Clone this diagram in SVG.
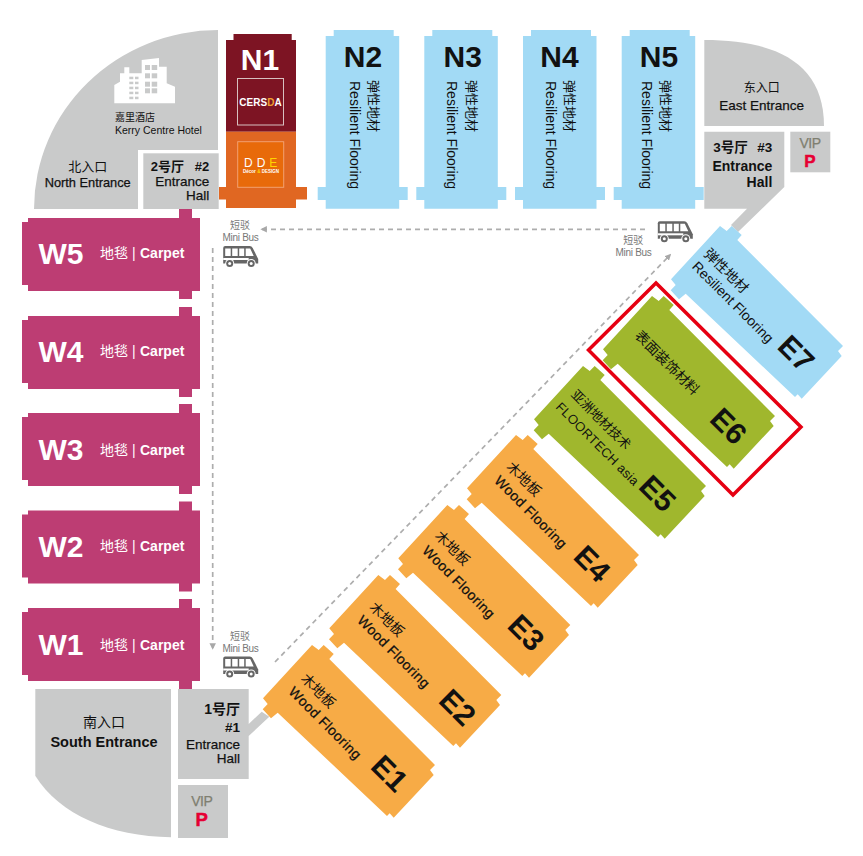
<svg xmlns="http://www.w3.org/2000/svg" width="863" height="856" viewBox="0 0 863 856">
<style>
text{font-family:"Liberation Sans","Noto Sans CJK SC",sans-serif;fill:#111}
.g{fill:#c9caca}
.blue{fill:#a2daf5}.or{fill:#f7ab46}.gr{fill:#a0b72d}.w{fill:#bd3d73}
.nl{font-size:30px;font-weight:700;text-anchor:middle}
.wl{font-size:30px;font-weight:700;fill:#fff}
.wc{font-size:14px;fill:#fff}
.wt{font-size:14px;font-weight:700;fill:#fff}
.v{font-size:14px}.c13{font-size:13px}
.el{font-size:30px;font-weight:700;text-anchor:middle}
.m{text-anchor:middle}
.r{text-anchor:end}
.med{stroke:#111;stroke-width:.25px}
.bus{font-size:10px;fill:#777;text-anchor:middle}
.bus2{font-size:10px;fill:#777;text-anchor:middle;letter-spacing:-.3px}
.vip{font-size:14px;fill:#7f7f70;stroke:#7f7f70;stroke-width:.25px;text-anchor:middle;letter-spacing:-.5px}
.p{font-weight:700;fill:#e60033;stroke:#e60033;stroke-width:.5px;text-anchor:middle}
.dash{fill:none;stroke:#adadad;stroke-width:1.7;stroke-dasharray:5 4}
</style>
<defs>
<polygon id="eshape" points="0,0 6.7,5 11.7,0 21.7,9 17.3,14 123,120 118,125 121.7,130 81.7,172.7 77.7,168.3 75,171 -34.3,67.7 -41,73.3 -49.3,64.3 -44.3,59 -49,53.3"/>
<polygon id="wshape" points="157,-9 170,-9 170,0 178,0 178,73 170,73 170,81 157,81 157,73 6,73 6,67 0,67 0,4 6,4 6,0 157,0"/>
<path id="nshape" d="M8 -6H68V0H73.5V151H82V164H73.5V172.700H0V164H-8V151H0V0H8Z"/>
<marker id="ah" viewBox="0 0 8 8" refX="6" refY="4" markerWidth="6.500" markerHeight="6.500" markerUnits="userSpaceOnUse" orient="auto"><path d="M0 0L8 4L0 8Z" fill="#a8a8a8"/></marker>
<g id="busicon">
<path d="M.5 2Q.5 0 2.500 0H27Q29 0 30 2L35.500 13V17.500H.5Z" fill="#666"/>
<path d="M2.500 2.500H8V10H2.500ZM9.500 2.500H15V10H9.500ZM16.500 2.500H21.500V10H16.500ZM23 2.500H27.500L31 10H23Z" fill="#fff"/>
<path d="M.5 12H26V14H.5Z" fill="#fff"/>
<circle cx="7" cy="17.500" r="4.500" fill="#fff"/><circle cx="28.500" cy="17.500" r="4.500" fill="#fff"/>
<circle cx="7" cy="17.500" r="3.500" fill="#666"/><circle cx="28.500" cy="17.500" r="3.500" fill="#666"/>
<circle cx="7" cy="17.500" r="1.500" fill="#fff"/><circle cx="28.500" cy="17.500" r="1.500" fill="#fff"/>
</g>
</defs>
<rect width="863" height="856" fill="#fff"/>

<g id="connectors">
<path class="dash" d="M645 229.300H262" marker-end="url(#ah)"/>
<path class="dash" d="M212.700 248V648" marker-end="url(#ah)"/>
<path class="dash" d="M275 662L670 255" marker-end="url(#ah)"/>
</g>

<g id="hotel">
<path class="g" d="M218 30V150H138V209H34A184 179 0 0 1 218 30Z"/>
<path fill="#fff" d="M114.300 85L120 81.700V73.300H124.300V67.300H129.300V73.300H141.700V60L159 58V66.700H166.700V83.300L175 86.700V103.300H114.300Z"/>
<g class="g">
<rect x="145" y="65" width="5" height="5"/><rect x="151.700" y="65" width="5.500" height="5"/>
<rect x="145" y="73.300" width="5" height="5"/><rect x="151.700" y="73.300" width="5.500" height="5"/>
<rect x="145" y="81.700" width="5" height="5"/><rect x="151.700" y="81.700" width="5.500" height="5"/>
<rect x="145" y="88.300" width="5" height="5"/><rect x="151.700" y="88.300" width="5.500" height="5"/>
<rect x="129.300" y="76.700" width="4" height="2.500"/><rect x="135" y="76.700" width="3.500" height="2.500"/>
<rect x="129.300" y="81.700" width="4" height="2.500"/><rect x="135" y="81.700" width="3.500" height="2.500"/>
<rect x="129.300" y="86.700" width="4" height="2.500"/><rect x="135" y="86.700" width="3.500" height="2.500"/>
<rect x="129.300" y="91.700" width="4" height="2.500"/><rect x="135" y="91.700" width="3.500" height="2.500"/>
<rect x="129.300" y="96.700" width="4" height="2.500"/><rect x="135" y="96.700" width="3.500" height="2.500"/>
</g>
<text x="115" y="121" font-size="10">嘉里酒店</text>
<text x="115" y="134" font-size="10.500">Kerry Centre Hotel</text>
<text class="m" x="87.700" y="171" font-size="13">北入口</text>
<text class="m med" x="87.700" y="186.700" font-size="12.800">North Entrance</text>
</g>

<g id="hall2">
<rect class="g" x="143.300" y="153.300" width="75.400" height="55.700"/>
<text x="150.700" y="170.700" font-size="13" font-weight="700">2号厅</text>
<text class="r" x="209.300" y="170.700" font-size="13" font-weight="700">#2</text>
<text class="r med" x="209.300" y="185.700" font-size="13.500">Entrance</text>
<text class="r med" x="209.300" y="200" font-size="13.500">Hall</text>
</g>

<g id="east">
<path class="g" d="M704.300 40C775 40 824 62 824 126H704.300Z"/>
<text class="m" x="761.700" y="91.700" font-size="12">东入口</text>
<text class="m med" x="761.700" y="110" font-size="13.500">East Entrance</text>
</g>

<g id="hall3">
<polygon class="g" points="704.300,131.700 784.300,131.700 784.300,187 738,232 731,225 747,208.700 704.300,208.700"/>
<text x="713.300" y="151.700" font-size="13.500" font-weight="700">3号厅</text>
<text class="r" x="772.300" y="151.700" font-size="13.500" font-weight="700">#3</text>
<text class="r" x="772.300" y="171" font-size="14" font-weight="700">Entrance</text>
<text class="r" x="772.300" y="186.700" font-size="14" font-weight="700">Hall</text>
</g>

<g id="vip-east">
<rect class="g" x="790.300" y="131.700" width="40" height="40.600"/>
<text class="vip" x="810" y="148.300">VIP</text>
<text class="p" x="810" y="166.700" font-size="17">P</text>
</g>

<g id="south">
<path class="g" d="M35.300 689H171V837.300C110 836 60 815 35.300 775.700Z"/>
<text class="m" x="104" y="727" font-size="14">南入口</text>
<text class="m" x="104" y="746.700" font-size="14.500" font-weight="700">South Entrance</text>
</g>

<g id="hall1">
<polygon class="g" points="178,689 248.700,689 248.700,724 261.700,711.700 269.300,716.700 248.700,736 248.700,779 178,779"/>
<text class="r" x="240" y="714" font-size="14" font-weight="700">1号厅</text>
<text class="r" x="240" y="731.700" font-size="13.500" font-weight="700">#1</text>
<text class="r med" x="240" y="749" font-size="13.500">Entrance</text>
<text class="r med" x="240" y="762.700" font-size="13.500">Hall</text>
</g>

<g id="vip-south">
<rect class="g" x="178" y="785" width="50" height="53"/>
<text class="vip" x="201.700" y="806">VIP</text>
<text class="p" x="201.700" y="826" font-size="18.500">P</text>
</g>

<g id="N1">
<path fill="#7d1423" d="M233.500 34H291.700V40H296V131.700H226V40H233.500Z"/>
<path fill="#e06722" d="M226 131.700H296V187H307V199.500H296V208H226V199.500H219V187H226Z"/>
<text class="nl" x="260" y="70" style="fill:#fff">N1</text>
<rect x="237.500" y="78.500" width="46" height="46.500" fill="none" stroke="#d8c0c0"/>
<text x="260.500" y="106" font-size="10" font-weight="700" text-anchor="middle" style="fill:#fff">CERS<tspan style="fill:#f0a030">D</tspan>A</text>
<rect x="237.700" y="141.700" width="46" height="45.600" fill="#e86a0a" stroke="#f2a070"/>
<text x="244" y="167" font-size="12" letter-spacing="4" style="fill:#fff">DD<tspan style="fill:#ffd400">E</tspan></text>
<text x="261" y="173" font-size="4.500" font-weight="700" text-anchor="middle" style="fill:#fff">Décor <tspan style="fill:#ffd400">&amp;</tspan> DESIGN</text>
</g>

<g id="N2">
<use href="#nshape" class="blue" x="325.700" y="36"/>
<text class="nl" x="363" y="66.700">N2</text>
<text class="v" transform="translate(349.500 81) rotate(90)">Resilient Flooring</text>
<text class="c13" transform="translate(369 80) rotate(90)">弹性地材</text>
</g>
<g id="N3">
<use href="#nshape" class="blue" x="424.300" y="36"/>
<text class="nl" x="462.700" y="66.700">N3</text>
<text class="v" transform="translate(447 81) rotate(90)">Resilient Flooring</text>
<text class="c13" transform="translate(466.500 80) rotate(90)">弹性地材</text>
</g>
<g id="N4">
<use href="#nshape" class="blue" x="523" y="36"/>
<text class="nl" x="559.500" y="66.700">N4</text>
<text class="v" transform="translate(545.500 81) rotate(90)">Resilient Flooring</text>
<text class="c13" transform="translate(564.500 80) rotate(90)">弹性地材</text>
</g>
<g id="N5">
<use href="#nshape" class="blue" x="621.700" y="36"/>
<text class="nl" x="659" y="66.700">N5</text>
<text class="v" transform="translate(642 81) rotate(90)">Resilient Flooring</text>
<text class="c13" transform="translate(661 80) rotate(90)">弹性地材</text>
</g>

<g id="W5"><use href="#wshape" class="w" x="22" y="218"/><text class="wl" x="38.500" y="264">W5</text><text class="wc" x="100" y="258">地毯</text><text class="wc" x="132" y="258">|</text><text class="wt" x="140" y="258">Carpet</text></g>
<g id="W4"><use href="#wshape" class="w" x="22" y="316"/><text class="wl" x="38.500" y="362">W4</text><text class="wc" x="100" y="356">地毯</text><text class="wc" x="132" y="356">|</text><text class="wt" x="140" y="356">Carpet</text></g>
<g id="W3"><use href="#wshape" class="w" x="22" y="413"/><text class="wl" x="38.500" y="460">W3</text><text class="wc" x="100" y="455">地毯</text><text class="wc" x="132" y="455">|</text><text class="wt" x="140" y="455">Carpet</text></g>
<g id="W2"><use href="#wshape" class="w" x="22" y="510.500"/><text class="wl" x="38.500" y="557">W2</text><text class="wc" x="100" y="551">地毯</text><text class="wc" x="132" y="551">|</text><text class="wt" x="140" y="551">Carpet</text></g>
<g id="W1"><use href="#wshape" class="w" x="22" y="608"/><text class="wl" x="38.500" y="655">W1</text><text class="wc" x="100" y="650">地毯</text><text class="wc" x="132" y="650">|</text><text class="wt" x="140" y="650">Carpet</text></g>

<g id="E1">
<use href="#eshape" class="or" x="312" y="645"/>
<text class="m" font-size="14" transform="translate(318.300 690.700) rotate(45) translate(0 5)">木地板</text>
<text class="m med" font-size="14" letter-spacing=".4" transform="translate(325.300 723) rotate(45) translate(0 5)">Wood Flooring</text>
<text class="el" transform="translate(390 773) rotate(45) translate(0 11)">E1</text>
</g>
<g id="E2">
<use href="#eshape" class="or" x="378.300" y="575"/>
<text class="m" font-size="14" transform="translate(387 619.300) rotate(45) translate(0 5)">木地板</text>
<text class="m med" font-size="14" letter-spacing=".4" transform="translate(394 651.700) rotate(45) translate(0 5)">Wood Flooring</text>
<text class="el" transform="translate(458 707) rotate(45) translate(0 11)">E2</text>
</g>
<g id="E3">
<use href="#eshape" class="or" x="447.300" y="505"/>
<text class="m" font-size="14" transform="translate(452.500 548) rotate(45) translate(0 5)">木地板</text>
<text class="m med" font-size="14" letter-spacing=".4" transform="translate(459 582) rotate(45) translate(0 5)">Wood Flooring</text>
<text class="el" transform="translate(526.700 632.300) rotate(45) translate(0 11)">E3</text>
</g>
<g id="E4">
<use href="#eshape" class="or" x="516" y="435"/>
<text class="m" font-size="14" transform="translate(524 479) rotate(45) translate(0 5)">木地板</text>
<text class="m med" font-size="14" letter-spacing=".4" transform="translate(531 512) rotate(45) translate(0 5)">Wood Flooring</text>
<text class="el" transform="translate(592.700 563.300) rotate(45) translate(0 11)">E4</text>
</g>
<g id="E5">
<use href="#eshape" class="gr" x="583" y="366"/>
<text class="m" font-size="13" transform="translate(601.300 419.300) rotate(45) translate(0 5)">亚洲地材技术</text>
<text class="m" font-size="13" letter-spacing=".3" transform="translate(598 443.700) rotate(45) translate(0 5)">FLOORTECH asia</text>
<text class="el" transform="translate(658 493) rotate(45) translate(0 11)">E5</text>
</g>
<g id="E6">
<use href="#eshape" class="gr" x="652" y="296"/>
<text class="m" font-size="14" transform="translate(667.300 362.700) rotate(45) translate(0 5)">表面装饰材料</text>
<text class="el" transform="translate(729 425.700) rotate(45) translate(0 11)">E6</text>
</g>
<g id="E7">
<use href="#eshape" class="blue" x="720" y="226"/>
<text class="m" font-size="14" transform="translate(726.300 270.700) rotate(45) translate(0 5)">弹性地材</text>
<text class="m" font-size="14" transform="translate(733 302) rotate(45) translate(0 5)">Resilient Flooring</text>
<text class="el" transform="translate(796.700 353) rotate(45) translate(0 11)">E7</text>
</g>

<g id="highlight"><polygon points="656,283 588.500,350 733,495 801,427" fill="none" stroke="#e60012" stroke-width="3.500"/></g>

<g id="bus-north">
<text class="bus" x="240" y="229">短驳</text><text class="bus2" x="240.500" y="240.700">Mini Bus</text>
<use href="#busicon" x="222.700" y="246"/>
</g>
<g id="bus-south">
<text class="bus" x="240" y="640">短驳</text><text class="bus2" x="240.500" y="651.700">Mini Bus</text>
<use href="#busicon" x="222.700" y="656.500"/>
</g>
<g id="bus-east">
<text class="bus" x="633.300" y="244">短驳</text><text class="bus2" x="633.500" y="255.500">Mini Bus</text>
<use href="#busicon" x="657.300" y="221.300"/>
</g>
</svg>
